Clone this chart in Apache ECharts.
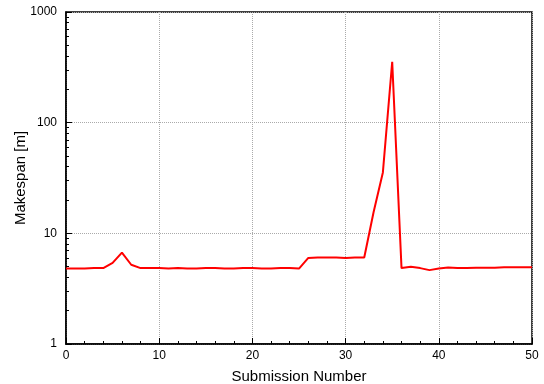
<!DOCTYPE html>
<html>
<head>
<meta charset="utf-8">
<script src="https://cdn.jsdelivr.net/npm/echarts@6/dist/echarts.min.js"></script>
<style>html,body{margin:0;padding:0;background:#fff}#c{width:544px;height:384px}</style>
</head>
<body>
<div id="c"></div>
<script>
var submissions = [0,1,2,3,4,5,6,7,8,9,10,11,12,13,14,15,16,17,18,19,20,21,22,23,24,25,26,27,28,29,30,31,32,33,34,35,36,37,38,39,40,41,42,43,44,45,46,47,48,49,50];
var makespan = [4.8,4.8,4.8,4.85,4.85,5.4,6.7,5.2,4.85,4.85,4.85,4.8,4.85,4.8,4.8,4.85,4.85,4.8,4.8,4.85,4.85,4.8,4.8,4.85,4.85,4.8,6.0,6.05,6.05,6.05,6.0,6.05,6.05,15.5,35.5,355,4.85,5.0,4.85,4.65,4.8,4.9,4.85,4.85,4.88,4.88,4.88,4.95,4.95,4.95,4.95];
var yMinorTicks = [2,3,4,5,6,7,8,9,20,30,40,50,60,70,80,90,200,300,400,500,600,700,800,900];
var fontFam = '"Liberation Sans", Arial, sans-serif';

var chart = echarts.init(document.getElementById('c'), null, {renderer:'canvas'});
chart.setOption({
  animation: false,
  backgroundColor: '#fff',
  grid: {left: 66, right: 12, top: 12, bottom: 40, show: true, borderColor: '#000', borderWidth: 1.5, containLabel: false, outerBoundsMode: 'none'},
  xAxis: [{
    type: 'value', min: 0, max: 50, interval: 10,
    name: 'Submission Number', nameLocation: 'middle', nameGap: 25, nameMoveOverlap: false,
    nameTextStyle: {fontFamily: fontFam, fontSize: 15, color: '#000'},
    axisLine: {show: true, lineStyle: {color: '#000', width: 1.5}},
    axisTick: {show: true, inside: true, length: 6, lineStyle: {color: '#000'}},
    minorTick: {show: true, splitNumber: 5, length: 3, lineStyle: {color: '#000'}},
    axisLabel: {fontFamily: fontFam, fontSize: 12, color: '#000', margin: 6},
    splitLine: {show: true, lineStyle: {color: '#aaa', type: 'dotted', width: 1}}
  }],
  yAxis: [{
    type: 'log', logBase: 10, min: 1, max: 1000,
    name: 'Makespan [m]', nameLocation: 'middle', nameGap: 38, nameMoveOverlap: false,
    nameTextStyle: {fontFamily: fontFam, fontSize: 15, color: '#000'},
    axisLine: {show: true, lineStyle: {color: '#000', width: 1.5}},
    axisTick: {show: true, inside: true, length: 6, lineStyle: {color: '#000'}},
    axisLabel: {fontFamily: fontFam, fontSize: 12, color: '#000', margin: 9, formatter: function(v){ return String(Math.round(v)); }},
    splitLine: {show: true, lineStyle: {color: '#aaa', type: 'dotted', width: 1}}
  }, {
    type: 'log', logBase: 10, min: 1, max: 1000, position: 'left',
    axisLine: {show: false},
    axisTick: {show: true, inside: true, length: 3, customValues: yMinorTicks, lineStyle: {color: '#000'}},
    axisLabel: {show: false},
    splitLine: {show: false}
  }],
  series: [{
    type: 'line',
    xAxisIndex: 0, yAxisIndex: 0,
    data: submissions.map(function(x, i){ return [x, makespan[i]]; }),
    showSymbol: false, symbol: 'none',
    lineStyle: {color: '#ff0000', width: 2},
    itemStyle: {color: '#ff0000'}
  }]
});
</script>
</body>
</html>
